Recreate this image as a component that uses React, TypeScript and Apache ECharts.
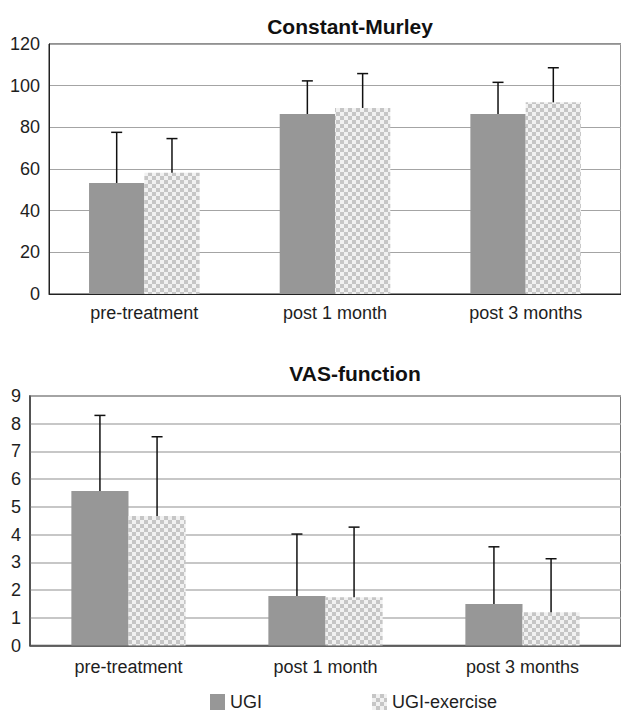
import React, { useEffect, useRef } from 'react';
import * as echarts from 'echarts';

const categories = ['pre-treatment', 'post 1 month', 'post 3 months'];
const seriesNames = ['UGI', 'UGI-exercise'];
const chartTitles = ['Constant-Murley', 'VAS-function'];

// Constant-Murley (mean, SD)
const cmUGI = [53.3, 86.4, 86.4];
const cmUGISd = [24.3, 15.9, 15.2];
const cmEx = [58.2, 89.3, 92.0];
const cmExSd = [16.4, 16.5, 16.6];

// VAS-function (mean, SD)
const vasUGI = [5.57, 1.79, 1.5];
const vasUGISd = [2.73, 2.23, 2.06];
const vasEx = [4.67, 1.74, 1.2];
const vasExSd = [2.86, 2.53, 1.93];

const FONT = '"Liberation Sans", Arial, Helvetica, sans-serif';
const GAP = 0.42;

export default function App() {
  const ref = useRef<HTMLDivElement>(null);

  useEffect(() => {
    if (!ref.current) return;
    const chart = echarts.init(ref.current, undefined, { renderer: 'svg' });

    const cv = document.createElement('canvas');
    cv.width = 8;
    cv.height = 8;
    const ctx = cv.getContext('2d')!;
    ctx.fillStyle = '#f1f1f1';
    ctx.fillRect(0, 0, 8, 8);
    ctx.fillStyle = '#c6c6c6';
    ctx.fillRect(0, 0, 4, 4);
    ctx.fillRect(4, 4, 4, 4);
    const checker: any = { image: cv, repeat: 'repeat' };

    const makeErr = (g: number, means: number[], sds: number[], side: number) => ({
      type: 'custom',
      xAxisIndex: g,
      yAxisIndex: g,
      z: 10,
      silent: true,
      data: means.map((m, i) => [i, m, m + sds[i]]),
      encode: { x: 0, y: [1, 2] },
      renderItem: (params: any, api: any) => {
        const i = api.value(0);
        const lo = api.coord([i, api.value(1)]);
        const hi = api.coord([i, api.value(2)]);
        const band = api.size([1, 0])[0];
        const bw = (band * (1 - GAP)) / 2;
        const x = lo[0] + (side * bw) / 2;
        const st = { stroke: '#111', lineWidth: 1.5 };
        return {
          type: 'group',
          children: [
            { type: 'line', shape: { x1: x, y1: lo[1], x2: x, y2: hi[1] }, style: st },
            { type: 'line', shape: { x1: x - 5.5, y1: hi[1], x2: x + 5.5, y2: hi[1] }, style: st },
          ],
        };
      },
    });

    const bar = (g: number, name: string, data: number[], color: any) => ({
      type: 'bar',
      name,
      xAxisIndex: g,
      yAxisIndex: g,
      data,
      barGap: '0%',
      barCategoryGap: GAP * 100 + '%',
      itemStyle: { color },
      silent: true,
    });

    const xAxis = (g: number, lineColor: string, lw: number, margin: number) => ({
      type: 'category',
      gridIndex: g,
      data: categories,
      axisLine: { show: true, lineStyle: { color: lineColor, width: lw } },
      axisTick: { show: false },
      axisLabel: { color: '#1e1e1e', fontSize: 18, fontFamily: FONT, margin },
    });

    const yAxis = (g: number, max: number, interval: number, lineColor: string, lw: number, gridColor: string, gw: number) => ({
      type: 'value',
      gridIndex: g,
      min: 0,
      max,
      interval,
      axisLine: { show: true, lineStyle: { color: lineColor, width: lw } },
      axisTick: { show: false },
      axisLabel: { color: '#1e1e1e', fontSize: 18, fontFamily: FONT, margin: 9 },
      splitLine: { show: true, lineStyle: { color: gridColor, width: gw } },
    });

    const legendBase = {
      top: 693,
      padding: 0,
      itemWidth: 15,
      itemHeight: 16,
      itemGap: 0,
      icon: 'rect',
      selectedMode: false,
      textStyle: { color: '#1e1e1e', fontSize: 18, fontFamily: FONT, padding: [0, 0, 0, 0] },
    };

    chart.setOption({
      animation: false,
      backgroundColor: '#fff',
      graphic: [
        {
          type: 'text',
          x: 350,
          y: 26,
          style: { text: chartTitles[0], fill: '#111', font: 'bold 21px ' + FONT, textAlign: 'center', textVerticalAlign: 'middle' },
        },
        {
          type: 'text',
          x: 355,
          y: 373,
          style: { text: chartTitles[1], fill: '#111', font: 'bold 21px ' + FONT, textAlign: 'center', textVerticalAlign: 'middle' },
        },
      ],
      legend: [
        { ...legendBase, data: [seriesNames[0]], left: 210 },
        { ...legendBase, data: [seriesNames[1]], left: 372 },
      ],
      grid: [
        { left: 49, right: -1, top: 44, bottom: 419, show: true, borderColor: '#222', borderWidth: 1, backgroundColor: 'transparent' },
        { left: 30, right: -9, top: 396, bottom: 67.5, show: true, borderColor: '#4a4a4a', borderWidth: 1.5, backgroundColor: 'transparent' },
      ],
      xAxis: [xAxis(0, '#222', 1, 10), xAxis(1, '#4a4a4a', 1.5, 12)],
      yAxis: [
        yAxis(0, 120, 20, '#222', 1, '#a4a4a4', 1),
        yAxis(1, 9, 1, '#4a4a4a', 1.5, '#b4b4b4', 1.5),
      ],
      series: [
        bar(0, seriesNames[0], cmUGI, '#979797'),
        bar(0, seriesNames[1], cmEx, checker),
        bar(1, seriesNames[0], vasUGI, '#979797'),
        bar(1, seriesNames[1], vasEx, checker),
        makeErr(0, cmUGI, cmUGISd, -1),
        makeErr(0, cmEx, cmExSd, 1),
        makeErr(1, vasUGI, vasUGISd, -1),
        makeErr(1, vasEx, vasExSd, 1),
      ],
    });

    return () => chart.dispose();
  }, []);

  return (
    <div
      ref={ref}
      style={{ position: 'absolute', left: 0, top: 0, width: 621, height: 713, background: '#fff' }}
    />
  );
}
